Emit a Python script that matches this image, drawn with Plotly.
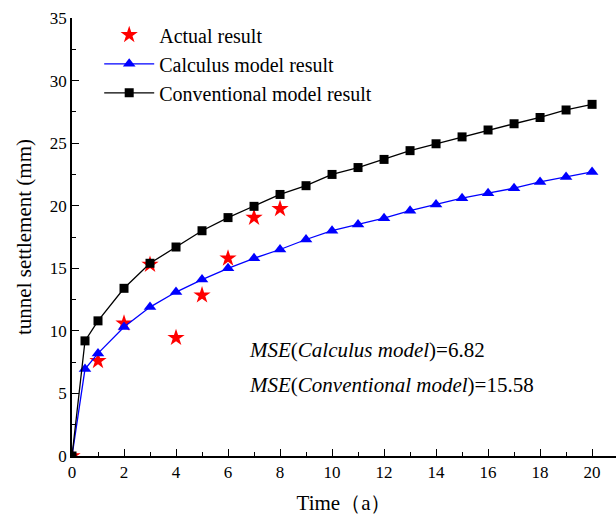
import plotly.graph_objects as go

# data
t_model = [0, 0.5, 1, 2, 3, 4, 5, 6, 7, 8, 9, 10, 11, 12, 13, 14, 15, 16, 17, 18, 19, 20]
calculus = [0, 6.95, 8.2, 10.3, 11.9, 13.1, 14.1, 15.0, 15.8, 16.5, 17.3, 18.0,
            18.5, 19.0, 19.6, 20.1, 20.6, 21.0, 21.4, 21.9, 22.3, 22.7]
conventional = [0, 9.2, 10.8, 13.4, 15.4, 16.7, 18.0, 19.05, 19.95, 20.9, 21.6, 22.5,
                23.05, 23.7, 24.4, 24.95, 25.5, 26.05, 26.55, 27.05, 27.65, 28.1]
t_actual = [0, 1, 2, 3, 4, 5, 6, 7, 8]
actual = [0, 7.6, 10.6, 15.3, 9.45, 12.85, 15.8, 19.05, 19.75]

mse_labels = ["<i>MSE</i>(<i>Calculus model</i>)=6.82",
              "<i>MSE</i>(<i>Conventional model</i>)=15.58"]

FONT = "Liberation Serif"

fig = go.Figure()
fig.add_trace(go.Scatter(
    x=t_actual, y=actual, mode="markers", name="Actual result",
    marker=dict(symbol="star", color="red", size=13, line=dict(width=0))))
fig.add_trace(go.Scatter(
    x=t_model, y=calculus, mode="lines+markers", name="Calculus model result",
    line=dict(color="blue", width=1.3),
    marker=dict(symbol="triangle-up", color="blue", size=11)))
fig.add_trace(go.Scatter(
    x=t_model, y=conventional, mode="lines+markers", name="Conventional model result",
    line=dict(color="black", width=1.3),
    marker=dict(symbol="square", color="black", size=9)))

for i, txt in enumerate(mse_labels):
    fig.add_annotation(x=0.322, y=0.242 - i * 0.08, xref="paper", yref="paper",
                       text=txt, showarrow=False, xanchor="left", yanchor="middle",
                       font=dict(family=FONT, size=21, color="black"))

axis_common = dict(
    showline=True, linecolor="black", linewidth=1.5, mirror=False,
    ticks="inside", ticklen=7, tickwidth=1.3, tickcolor="black",
    showgrid=False, zeroline=False,
    tickfont=dict(family=FONT, size=17, color="black"),
)

fig.update_xaxes(range=[0, 20.92], dtick=2, tick0=0,
                 minor=dict(ticks="inside", ticklen=4, tickwidth=1, tickcolor="black", dtick=1, tick0=0),
                 title=dict(text="Time（a）", font=dict(family=FONT, size=21, color="black"), standoff=14),
                 **axis_common)
fig.update_yaxes(range=[0, 35], dtick=5, tick0=0,
                 minor=dict(ticks="inside", ticklen=4, tickwidth=1, tickcolor="black", dtick=2.5, tick0=0),
                 title=dict(text="tunnel settlement (mm)", font=dict(family=FONT, size=21, color="black"), standoff=12),
                 **axis_common)

fig.update_layout(
    width=616, height=519,
    margin=dict(l=72, r=0, t=18, b=63),
    plot_bgcolor="white", paper_bgcolor="white",
    legend=dict(x=0.05, y=1.006, xanchor="left", yanchor="top",
                font=dict(family=FONT, size=20, color="black"),
                bgcolor="rgba(0,0,0,0)", itemwidth=50, tracegroupgap=0),
    showlegend=True,
)

fig.write_html("out.html")
